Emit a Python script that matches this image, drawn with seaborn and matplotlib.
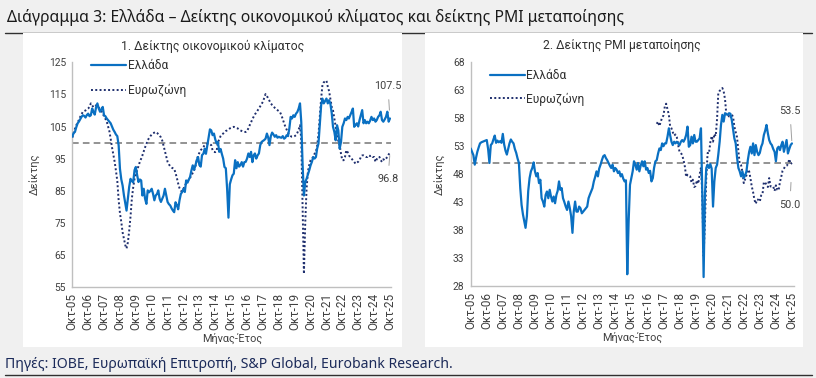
import numpy as np
import pandas as pd
import matplotlib
matplotlib.use("Agg")
import matplotlib.pyplot as plt
from matplotlib.lines import Line2D
from matplotlib.patches import Rectangle
import seaborn as sns

# ---------------- data (monthly, Oct-2005 .. Oct-2025) ----------------
start_month = "2005-10-01"
n_months = 241

gr_esi = [
    101.8, 103.0, 103.3,
    104.8, 106.0, 106.5, 107.3, 108.0, 108.5, 108.3, 107.8, 108.6, 109.0, 108.2, 108.5,
    110.6, 109.5, 108.7, 111.0, 112.2, 110.6, 109.6, 110.4, 111.1, 108.5, 108.2, 107.5,
    107.0, 106.5, 106.0, 105.0, 104.0, 103.3, 102.5, 102.0, 99.1, 91.8, 88.5, 86.6,
    83.5, 81.0, 78.8, 82.5, 86.2, 88.7, 88.0, 87.6, 91.4, 92.4, 89.8, 87.7,
    88.5, 88.2, 83.5, 85.6, 82.5, 80.9, 85.1, 84.5, 85.0, 85.6, 84.0, 82.0,
    83.5, 84.0, 85.1, 82.5, 81.5, 82.5, 83.5, 85.6, 83.5, 81.5, 80.8, 80.4,
    79.5, 78.8, 78.3, 81.4, 80.5, 79.2, 82.0, 84.0, 84.6, 85.6, 84.6, 88.2,
    87.5, 88.5, 89.3, 91.3, 92.9, 91.5, 92.8, 94.5, 95.5, 93.0, 92.5, 96.1,
    96.5, 98.1, 96.5, 99.1, 101.5, 104.1, 103.8, 102.3, 102.8, 101.0, 99.7, 100.2,
    97.1, 98.0, 96.5, 95.0, 92.4, 92.0, 85.6, 76.6, 87.0, 88.5, 89.8, 90.3,
    94.5, 92.0, 93.9, 92.5, 93.0, 93.9, 92.5, 93.9, 94.0, 95.0, 96.6, 95.5,
    97.1, 93.9, 96.0, 96.6, 95.0, 96.0, 96.6, 99.2, 100.2, 100.5, 100.8, 101.2,
    102.8, 101.5, 99.2, 102.0, 103.1, 102.5, 101.8, 102.3, 101.5, 101.8, 101.6, 101.5,
    102.0, 101.2, 101.5, 102.3, 102.0, 104.4, 108.0, 107.5, 108.5, 108.0, 109.0, 109.5,
    110.6, 112.2, 106.4, 93.0, 83.5, 87.7, 88.7, 90.0, 91.4, 92.9, 94.0, 95.5,
    95.0, 95.5, 98.1, 99.7, 105.4, 111.6, 113.7, 112.2, 113.0, 113.7, 112.2, 113.2,
    112.0, 109.0, 104.9, 103.3, 100.7, 105.4, 103.8, 98.1, 100.2, 104.9, 106.0, 107.5,
    107.0, 108.0, 107.5, 108.5, 109.5, 110.6, 104.9, 105.5, 106.0, 105.0, 107.0, 108.5,
    110.1, 106.0, 107.0, 106.0, 106.5, 106.0, 106.8, 108.0, 107.0, 107.5, 106.5, 107.0,
    108.0, 108.5, 109.6, 107.0, 106.5, 107.2, 108.0, 109.6, 106.5, 107.5,
]

ez_esi = [
    101.5, 103.0, 104.3,
    105.4, 106.3, 107.0, 108.0, 108.8, 109.6, 109.8, 110.0, 110.3, 110.6, 111.1, 112.2,
    111.6, 111.0, 111.3, 111.6, 111.4, 110.9, 110.4, 109.8, 109.0, 108.3, 107.5, 106.6,
    105.0, 103.5, 101.2, 98.5, 96.2, 94.0, 91.2, 88.0, 82.0, 78.0, 75.2, 72.0,
    70.0, 68.0, 67.0, 68.9, 72.5, 77.0, 82.5, 86.0, 88.7, 90.2, 91.4, 92.7,
    94.0, 95.0, 96.0, 97.3, 98.5, 99.5, 100.7, 101.4, 102.0, 102.5, 102.9, 103.1,
    103.3, 103.0, 102.6, 102.2, 101.6, 100.6, 99.0, 97.3, 95.7, 94.0, 93.2, 92.6,
    92.2, 92.0, 91.8, 90.5, 89.0, 87.2, 85.8, 85.0, 84.8, 85.6, 86.7, 87.2,
    87.8, 88.4, 89.0, 89.8, 90.5, 91.3, 92.6, 94.2, 96.0, 96.8, 97.6, 98.1,
    98.6, 99.2, 99.4, 99.6, 99.7, 99.5, 99.2, 97.6, 97.1, 97.0, 97.3, 100.0,
    101.0, 102.0, 102.5, 102.8, 103.2, 103.6, 103.8, 104.1, 104.4, 104.6, 104.8, 104.9,
    104.7, 104.5, 104.4, 104.1, 103.8, 103.6, 103.4, 103.3, 103.3, 103.5, 104.5, 105.4,
    106.3, 107.3, 108.0, 108.8, 109.3, 110.0, 110.6, 111.3, 112.0, 112.7, 113.9, 115.1,
    114.5, 113.7, 113.0, 112.2, 111.7, 111.3, 110.8, 110.4, 110.1, 109.8, 109.4, 108.5,
    107.3, 106.0, 104.9, 104.0, 103.0, 102.3, 102.0, 101.8, 101.8, 102.0, 102.3, 103.0,
    104.0, 105.4, 101.0, 80.0, 59.1, 75.2, 85.6, 91.0, 93.0, 94.5, 95.0, 95.5,
    96.5, 97.1, 99.0, 102.5, 108.0, 113.7, 117.9, 118.8, 119.0, 119.3, 117.4, 116.0,
    113.5, 111.0, 110.0, 107.5, 105.0, 102.8, 100.5, 99.2, 96.5, 94.5, 94.5, 95.5,
    97.6, 97.0, 96.0, 95.5, 95.0, 94.5, 94.0, 93.4, 93.8, 94.0, 94.5, 95.5,
    96.0, 96.0, 95.8, 95.5, 95.5, 96.0, 95.8, 96.0, 95.5, 95.5, 94.0, 94.8,
    95.5, 95.5, 94.5, 94.0, 94.8, 94.5, 95.0, 95.5, 96.3, 96.8,
]

gr_pmi = [
    52.6, 52.0, 51.4,
    49.7, 51.0, 52.0, 52.8, 53.5, 53.7, 53.8, 53.9, 54.0, 54.1, 52.5, 50.0,
    53.2, 53.5, 54.2, 54.9, 53.6, 54.0, 53.7, 53.9, 53.6, 55.2, 53.3, 52.2,
    51.5, 52.5, 53.5, 54.2, 53.8, 53.5, 52.5, 51.8, 50.8, 50.0, 45.5, 42.5,
    40.8, 39.5, 38.4, 40.5, 45.0, 47.3, 48.5, 49.1, 50.1, 48.5, 47.6, 48.2,
    46.4, 47.0, 43.7, 43.1, 42.2, 44.3, 44.9, 43.7, 45.2, 44.0, 43.1, 44.0,
    42.8, 44.3, 45.0, 46.7, 45.2, 45.5, 43.7, 43.0, 42.2, 41.6, 43.1, 42.0,
    40.5, 37.5, 41.3, 43.1, 41.3, 41.3, 42.2, 41.9, 41.0, 41.3, 41.6, 41.9,
    42.2, 43.7, 44.3, 44.9, 45.5, 46.7, 47.5, 48.5, 47.6, 49.0, 49.7, 50.5,
    51.2, 51.4, 50.9, 50.5, 50.0, 49.5, 49.1, 49.7, 48.5, 49.1, 48.8, 48.2,
    48.5, 47.6, 48.0, 47.2, 46.7, 46.9, 30.1, 39.5, 46.1, 47.3, 48.5, 50.3,
    49.7, 48.8, 50.0, 48.5, 49.5, 50.3, 49.4, 50.3, 48.8, 49.1, 48.2, 48.6,
    46.7, 47.3, 49.1, 50.3, 50.5, 51.7, 52.6, 52.3, 53.5, 53.0, 53.5, 53.5,
    54.7, 56.2, 55.0, 53.8, 53.2, 53.8, 53.5, 53.8, 53.5, 53.2, 53.8, 54.1,
    53.8, 54.3, 55.0, 56.5, 52.9, 53.2, 54.7, 53.5, 55.0, 53.8, 53.8, 54.1,
    54.4, 56.2, 45.0, 29.6, 44.3, 49.1, 49.7, 49.1, 49.8, 49.0, 42.2, 46.7,
    49.1, 49.7, 51.5, 53.8, 56.8, 58.6, 57.4, 58.9, 58.7, 58.6, 58.9, 58.8,
    57.7, 55.9, 54.4, 53.5, 51.0, 49.1, 48.5, 47.6, 48.5, 47.3, 47.8, 48.5,
    50.5, 52.0, 52.9, 51.7, 53.5, 51.4, 53.2, 52.0, 51.4, 51.8, 52.9, 53.5,
    55.0, 55.8, 56.8, 55.3, 54.1, 53.5, 53.2, 52.5, 52.0, 50.3, 52.6, 52.9,
    52.3, 53.2, 53.8, 52.0, 53.0, 54.1, 51.7, 52.5, 53.2, 53.5,
]

# Eurozone manufacturing PMI is shown from May-2017 only
ez_pmi_start = "2017-05-01"
ez_pmi = [
    57.0, 57.4, 56.6, 57.4, 58.1, 58.5, 60.1, 60.6,
    59.6, 58.6, 56.6, 56.2, 55.5, 54.9, 55.1, 54.6, 53.2, 52.0, 51.8, 51.4,
    50.5, 49.3, 47.5, 47.9, 47.7, 47.6, 46.5, 47.0, 45.7, 45.9, 46.9, 46.3,
    47.9, 49.2, 44.5, 33.4, 39.4, 47.4, 51.8, 51.7, 53.7, 54.8, 53.8, 55.2,
    54.8, 57.9, 62.5, 62.9, 63.1, 63.4, 62.8, 61.4, 58.6, 58.3, 58.4, 58.0,
    58.7, 58.2, 56.5, 55.5, 54.6, 52.1, 49.8, 49.6, 48.4, 46.4, 47.1, 47.8,
    48.8, 48.5, 47.3, 45.8, 44.8, 43.4, 42.7, 43.5, 43.4, 43.1, 44.2, 44.4,
    46.6, 46.5, 46.1, 45.7, 47.3, 45.8, 45.8, 45.8, 45.0, 46.0, 45.2, 45.1,
    46.6, 47.6, 48.6, 49.0, 49.4, 49.5, 49.8, 50.7, 49.8, 50.0,
]

tick_years = list(range(2005, 2026))
tick_labels = [f"Οκτ-{y % 100:02d}" for y in tick_years]

title_text = "Διάγραμμα 3: Ελλάδα – Δείκτης οικονομικού κλίματος και δείκτης PMI μεταποίησης"
source_text = "Πηγές: IOBE, Ευρωπαϊκή Επιτροπή, S&P Global, Eurobank Research."
panel_titles = ["1. Δείκτης οικονομικού κλίματος", "2. Δείκτης PMI μεταποίησης"]
series_names = ["Ελλάδα", "Ευρωζώνη"]

# ---------------- frames ----------------
dates = pd.date_range(start_month, periods=n_months, freq="MS")
df_esi = pd.DataFrame({"date": dates, "gr": gr_esi, "ez": ez_esi})
df_pmi = pd.DataFrame({"date": dates, "gr": gr_pmi})
df_ezpmi = pd.DataFrame({"date": pd.date_range(ez_pmi_start, periods=len(ez_pmi), freq="MS"),
                         "ez": ez_pmi})

# ---------------- style ----------------
sns.set_style("white")
plt.rcParams["font.family"] = ["Roboto", "DejaVu Sans"]

BLUE = "#0a70c2"
NAVY = "#1f2f6e"
GREY_TXT = "#404040"
SPINE = "#bfbfbf"
BG = "#f0f0f0"

W, H = 816, 378
fig = plt.figure(figsize=(W / 100, H / 100), dpi=100, facecolor=BG)

def fx(px):
    return px / W

def fy(py):
    return 1 - py / H

# title / source rules (behind the white panels)
fig.add_artist(Line2D([fx(5), fx(812)], [fy(33), fy(33)], color="#303030", lw=1.0, zorder=-2))
fig.add_artist(Line2D([fx(5), fx(812)], [fy(375), fy(375)], color="#303030", lw=1.0, zorder=-2))
for x0, x1 in [(23, 402), (425, 803)]:
    fig.add_artist(Rectangle((fx(x0), fy(347)), fx(x1 - x0), (347 - 33) / H,
                             facecolor="white", edgecolor="none", zorder=-1))

fig.text(fx(7), fy(17), title_text, fontsize=11.3, color="#1a1a1a",
         ha="left", va="center", family=["Noto Sans", "DejaVu Sans"])
fig.text(fx(5), fy(364), source_text, fontsize=10.1, color="#1c2b5a",
         ha="left", va="center", family=["Noto Sans", "DejaVu Sans"])

ax1 = fig.add_axes([fx(72.3), fy(287), fx(391.5 - 72.3), (287 - 62.3) / H])
ax2 = fig.add_axes([fx(470.7), fy(286), fx(793.5 - 470.7), (286 - 62.3) / H])

def style_axis(ax, ylim, yticks, ref, ypad):
    ax.set_facecolor("none")
    ax.axhline(ref, color="#808080", lw=1.2, ls=(0, (4, 2.5)), zorder=1)
    ax.set_ylim(*ylim)
    ax.set_yticks(yticks)
    ax.set_yticklabels([str(t) for t in yticks])
    tick_dates = pd.to_datetime([f"{y}-10-01" for y in tick_years])
    ax.set_xticks(tick_dates)
    ax.set_xticklabels(tick_labels, rotation=90)
    ax.set_xlim(pd.Timestamp("2005-10-01"), pd.Timestamp("2025-11-05"))
    for s in ["top", "right"]:
        ax.spines[s].set_visible(False)
    for s in ["left", "bottom"]:
        ax.spines[s].set_color(SPINE)
        ax.spines[s].set_linewidth(1.0)
    ax.tick_params(axis="both", colors=SPINE, labelcolor=GREY_TXT,
                   length=3, width=0.8, direction="out", pad=1.5)
    ax.tick_params(axis="x", labelsize=8.5)
    ax.tick_params(axis="y", labelsize=7.4)
    ax.set_xlabel("Μήνας-Έτος", fontsize=7.8, color=GREY_TXT, labelpad=2)
    ax.set_ylabel("Δείκτης", fontsize=8, color=GREY_TXT, labelpad=ypad)

# ---- left panel
sns.lineplot(data=df_esi, x="date", y="gr", ax=ax1, color=BLUE, lw=1.6, zorder=3)
sns.lineplot(data=df_esi, x="date", y="ez", ax=ax1, color=NAVY, lw=1.4,
             ls=(0, (1, 1.2)), zorder=2)
style_axis(ax1, (55, 125), list(range(55, 126, 10)), 100, 5.5)

# ---- right panel
sns.lineplot(data=df_pmi, x="date", y="gr", ax=ax2, color=BLUE, lw=1.6, zorder=3)
sns.lineplot(data=df_ezpmi, x="date", y="ez", ax=ax2, color=NAVY, lw=1.4,
             ls=(0, (1, 1.2)), zorder=2)
style_axis(ax2, (28, 68), list(range(28, 69, 5)), 50, 5)

fig.text(fx(213), fy(46), panel_titles[0], fontsize=8.7, color="#303030", ha="center", va="center")
fig.text(fx(622), fy(46), panel_titles[1], fontsize=8.7, color="#303030", ha="center", va="center")

def add_legend(ax, anchor, spacing):
    handles = [Line2D([], [], color=BLUE, lw=1.6),
               Line2D([], [], color=NAVY, lw=1.4, ls=(0, (1, 1.2)))]
    ax.legend(handles, series_names, loc="upper left", bbox_to_anchor=anchor,
              frameon=False, fontsize=8.6, handlelength=2.9, handletextpad=0.15,
              labelspacing=spacing, borderaxespad=0, labelcolor="#303030")

add_legend(ax1, (0.045, 1.035), 1.0)
add_legend(ax2, (0.045, 0.99), 0.85)

def end_label(ax, d, v, txt, dy_pt, shrink):
    ax.annotate(txt, xy=(d, v), xytext=(-1.5, dy_pt), textcoords="offset points",
                ha="center", va="center", fontsize=7.8, color=GREY_TXT,
                arrowprops=dict(arrowstyle="-", color="#a0a0a0", lw=0.7,
                                shrinkA=4, shrinkB=shrink))

last = dates[-1]
end_label(ax1, last, gr_esi[-1], f"{gr_esi[-1]:.1f}", 23.5, 6)
end_label(ax1, last, ez_esi[-1], f"{ez_esi[-1]:.1f}", -19, 2)
end_label(ax2, last, gr_pmi[-1], f"{gr_pmi[-1]:.1f}", 23.5, 2)
end_label(ax2, last, ez_pmi[-1], f"{ez_pmi[-1]:.1f}", -30, 14)

fig.savefig("out.png", dpi=100, facecolor=BG)
